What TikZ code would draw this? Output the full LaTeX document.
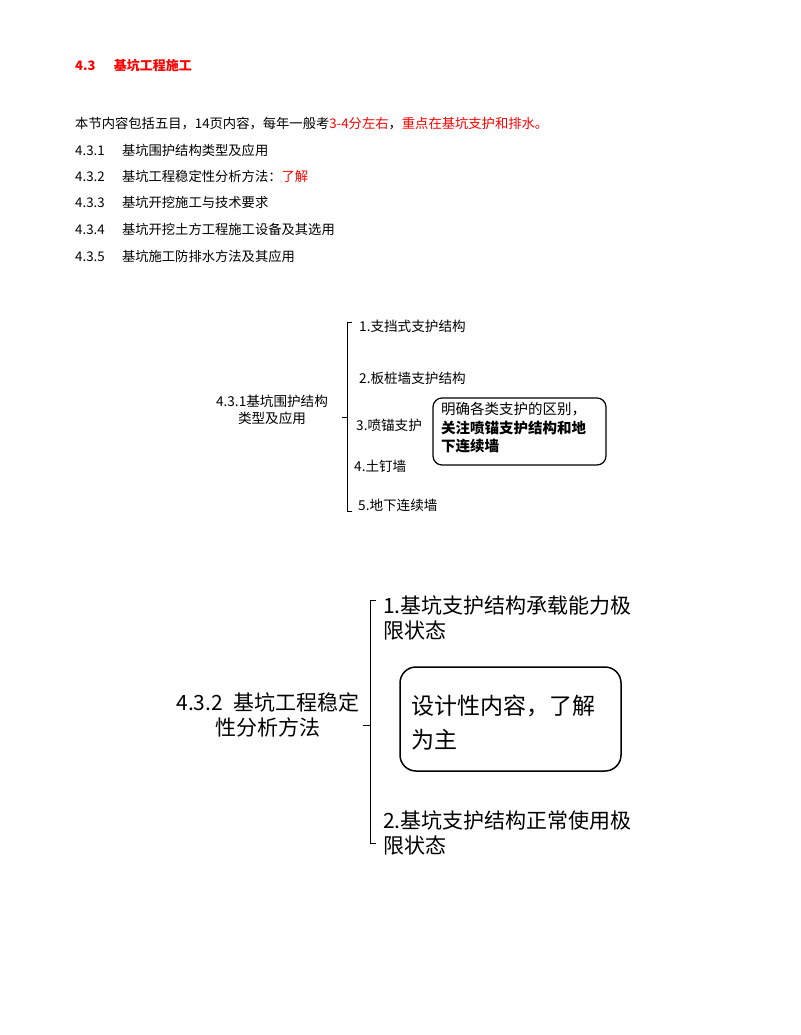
\documentclass[tikz,border=0pt]{standalone}
\usepackage{fontspec}
\setmainfont{Noto Sans CJK SC}
\newfontfamily\cjk{Noto Sans CJK SC}
\begin{document}
\begin{tikzpicture}[x=1pt,y=-1pt,
 txt/.style={anchor=west,inner sep=0pt,font=\fontsize{13.3}{15}\selectfont},
 m1/.style={anchor=west,inner sep=0pt,font=\fontsize{13.6}{16}\selectfont},
 m2/.style={anchor=west,inner sep=0pt,font=\fontsize{21}{25}\selectfont,align=left},
 brace/.style={draw,line width=0.8pt},
 bx/.style={draw,line width=1.2pt,rounded corners=10pt}]
\useasboundingbox (0,0) rectangle (800,1035);
\node[txt,text=red,font=\bfseries\fontsize{13}{15}\selectfont] (h) at (75,66) {4.3\hspace{1.4em}基坑工程施工};
\node[txt] (l0) at (75,124) {本节内容包括五目，14页内容，每年一般考\textcolor{red}{3-4分左右}，\textcolor{red}{重点在基坑支护和排水。}};
\node[txt] (l1) at (75,150) {4.3.1\hspace{1.3em}基坑围护结构类型及应用};
\node[txt] (l2) at (75,176) {4.3.2\hspace{1.3em}基坑工程稳定性分析方法：\textcolor{red}{了解}};
\node[txt] (l3) at (75,202) {4.3.3\hspace{1.3em}基坑开挖施工与技术要求};
\node[txt] (l4) at (75,229) {4.3.4\hspace{1.3em}基坑开挖土方工程施工设备及其选用};
\node[txt] (l5) at (75,256) {4.3.5\hspace{1.3em}基坑施工防排水方法及其应用};
% diagram 1
\node[align=center,inner sep=0pt,font=\fontsize{13.6}{17}\selectfont] (r1) at (272,410) {4.3.1基坑围护结构\\类型及应用};
\coordinate (t1) at (347,322); \coordinate (b1) at (347,511);
\draw[brace] (352,322) -- (t1) -- (b1) -- (352,511);
\draw[brace] (347,417) -- (342,417);
\node[m1] (a1) at (359,326) {1.支挡式支护结构};
\node[m1] (a2) at (359,378) {2.板桩墙支护结构};
\node[m1] (a3) at (356,425) {3.喷锚支护};
\node[m1] (a4) at (354,466) {4.土钉墙};
\node[m1] (a5) at (358,505) {5.地下连续墙};
\draw[bx,rounded corners=9pt] (433,398) rectangle (606,465);
\node[anchor=north west,align=left,inner sep=0pt,font=\fontsize{14.5}{18.5}\selectfont] (n1) at (441,402) {明确各类支护的区别，\\\textbf{关注喷锚支护结构和地}\\\textbf{下连续墙}};
% diagram 2
\node[align=center,inner sep=0pt,font=\fontsize{21}{25}\selectfont] (r2) at (268,715) {4.3.2\hspace{0.5em}基坑工程稳定\\性分析方法};
\draw[brace] (376,600) -- (370,600) -- (370,843) -- (376,843);
\draw[brace] (370,725) -- (363,725);
\node[m2] (c1) at (383,618) {1.基坑支护结构承载能力极\\限状态};
\node[m2] (c2) at (383,833) {2.基坑支护结构正常使用极\\限状态};
\draw[bx,rounded corners=16pt,line width=1.5pt] (400,667) rectangle (621,771);
\node[m2,font=\fontsize{23}{34}\selectfont] (n2) at (411,723) {设计性内容，了解\\为主};
\end{tikzpicture}
\end{document}
